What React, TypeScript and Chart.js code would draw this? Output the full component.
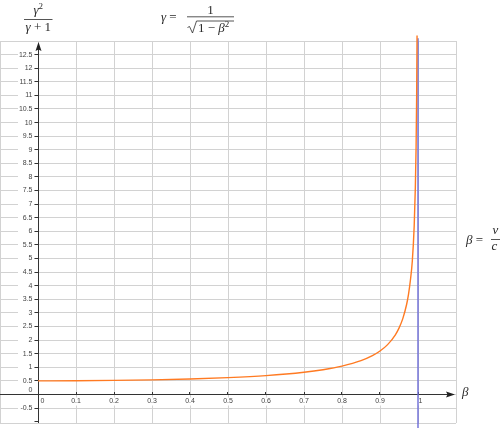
import React, { useEffect, useRef } from "react";
import { Chart, registerables } from "chart.js";

Chart.register(...registerables);

// curve γ²/(γ+1)
const betaValues = [0, 0.1, 0.2, 0.3, 0.4, 0.5, 0.6, 0.7, 0.75, 0.8, 0.85, 0.88, 0.9, 0.92, 0.94, 0.95, 0.96, 0.97, 0.975, 0.98, 0.985, 0.99, 0.993, 0.995, 0.9965, 0.9975];
const curveValues = [0.5, 0.504, 0.516, 0.536, 0.569, 0.619, 0.694, 0.817, 0.91, 1.042, 1.243, 1.427, 1.597, 1.833, 2.186, 2.441, 2.79, 3.309, 3.682, 4.2, 4.9, 6.2, 7.61, 9.11, 11.03, 13.2];
// vertical asymptote β = 1
const asymptoteBeta = [1, 1];
const asymptoteY = [-1.3, 13.1];

const xTickLabels = ["0", "0.1", "0.2", "0.3", "0.4", "0.5", "0.6", "0.7", "0.8", "0.9", "1"];
const yTickLabels = ["-0.5", "0", "0.5", "1", "1.5", "2", "2.5", "3", "3.5", "4", "4.5", "5", "5.5", "6", "6.5", "7", "7.5", "8", "8.5", "9", "9.5", "10", "10.5", "11", "11.5", "12", "12.5"];

const SERIF = '"Liberation Serif", "DejaVu Serif", serif';
const SANS = '"Liberation Sans", Arial, sans-serif';

type Run = { t: string; f: string; dy?: number };

function runsWidth(ctx: CanvasRenderingContext2D, runs: Run[]) {
  let w = 0;
  for (const r of runs) {
    ctx.font = r.f;
    w += ctx.measureText(r.t).width;
  }
  return w;
}

function drawRuns(ctx: CanvasRenderingContext2D, runs: Run[], x: number, baseline: number, center: boolean) {
  let cx = center ? x - runsWidth(ctx, runs) / 2 : x;
  ctx.textAlign = "left";
  ctx.textBaseline = "alphabetic";
  for (const r of runs) {
    ctx.font = r.f;
    ctx.fillText(r.t, cx, baseline + (r.dy || 0));
    cx += ctx.measureText(r.t).width;
  }
}

export default function App() {
  const ref = useRef<HTMLCanvasElement>(null);

  useEffect(() => {
    document.body.style.margin = "0";
    const canvas = ref.current;
    if (!canvas) return;

    const axesPlugin = {
      id: "ggbAxes",
      beforeDatasetsDraw(chart: any) {
        const { ctx, chartArea } = chart;
        const xs = chart.scales.x;
        const ys = chart.scales.y;
        const x0 = Math.floor(xs.getPixelForValue(0)) + 0.5;
        const y0 = Math.floor(ys.getPixelForValue(0)) + 0.5;
        ctx.save();

        // y labels with white background
        ctx.font = `7px ${SANS}`;
        ctx.textBaseline = "middle";
        ctx.textAlign = "right";
        for (const lbl of yTickLabels) {
          const v = parseFloat(lbl);
          const py = ys.getPixelForValue(v) - (v === 0 ? 4 : 0);
          ctx.fillStyle = "#ffffff";
          ctx.fillRect(18, py - 4, 16.5, 8);
          ctx.fillStyle = "#444";
          ctx.fillText(lbl, 32.5, py);
        }

        // x labels with white background
        ctx.textAlign = "center";
        for (const lbl of xTickLabels) {
          const v = parseFloat(lbl);
          const px = xs.getPixelForValue(v) + (v === 0 ? 4.5 : v === 1 ? 2.5 : 0);
          const w = ctx.measureText(lbl).width;
          ctx.fillStyle = "#ffffff";
          ctx.fillRect(px - w / 2 - 1, y0 + 3, w + 2, 8);
          ctx.fillStyle = "#444";
          ctx.fillText(lbl, px, y0 + 7);
        }

        ctx.strokeStyle = "#333";
        ctx.fillStyle = "#222";
        ctx.lineWidth = 1;

        // tick marks on y axis
        ctx.beginPath();
        for (let i = -2; i <= 25; i++) {
          const py = Math.floor(ys.getPixelForValue(i * 0.5)) + 0.5;
          ctx.moveTo(34.5, py);
          ctx.lineTo(x0, py);
        }
        // tick marks on x axis
        for (let i = 1; i <= 10; i++) {
          const px = Math.floor(xs.getPixelForValue(i * 0.1)) + 0.5;
          ctx.moveTo(px, y0 - 2.5);
          ctx.lineTo(px, y0);
        }
        ctx.stroke();

        // x axis
        ctx.beginPath();
        ctx.moveTo(0, y0);
        ctx.lineTo(449, y0);
        ctx.stroke();
        ctx.beginPath();
        ctx.moveTo(455, y0);
        ctx.lineTo(446, y0 - 3);
        ctx.lineTo(447.5, y0);
        ctx.lineTo(446, y0 + 3);
        ctx.closePath();
        ctx.fill();

        // y axis
        ctx.beginPath();
        ctx.moveTo(x0, chartArea.bottom);
        ctx.lineTo(x0, 48);
        ctx.stroke();
        ctx.beginPath();
        ctx.moveTo(x0, 42);
        ctx.lineTo(x0 - 3, 51);
        ctx.lineTo(x0, 49.5);
        ctx.lineTo(x0 + 3, 51);
        ctx.closePath();
        ctx.fill();

        ctx.restore();
      },
      afterDraw(chart: any) {
        const { ctx } = chart;
        ctx.save();
        ctx.fillStyle = "#2a2a2a";
        ctx.strokeStyle = "#2a2a2a";
        const it = `italic 13px ${SERIF}`;
        const rm = `13px ${SERIF}`;
        const sup = `9px ${SERIF}`;

        // γ² / (γ + 1)
        drawRuns(ctx, [{ t: "γ", f: it }, { t: "2", f: sup, dy: -5 }], 38.3, 14, true);
        ctx.lineWidth = 0.8;
        ctx.beginPath();
        ctx.moveTo(24, 19.5);
        ctx.lineTo(52.5, 19.5);
        ctx.stroke();
        drawRuns(ctx, [{ t: "γ", f: it }, { t: " + 1", f: rm }], 38.3, 30.5, true);

        // γ = 1 / sqrt(1 − β²)
        drawRuns(ctx, [{ t: "γ", f: it }, { t: " = ", f: rm }], 161, 20.5, false);
        drawRuns(ctx, [{ t: "1", f: rm }], 210.5, 13.5, true);
        ctx.beginPath();
        ctx.moveTo(187, 16.8);
        ctx.lineTo(234, 16.8);
        ctx.stroke();
        ctx.beginPath();
        ctx.moveTo(187.5, 27.5);
        ctx.lineTo(189.5, 26.5);
        ctx.lineTo(192.5, 33);
        ctx.lineTo(196.5, 21);
        ctx.lineTo(234, 21);
        ctx.stroke();
        drawRuns(ctx, [{ t: "1 − ", f: rm }, { t: "β", f: it }, { t: "2", f: sup, dy: -5 }], 198, 32, false);

        // β = v / c
        drawRuns(ctx, [{ t: "β", f: it }, { t: " = ", f: rm }], 466, 244, false);
        ctx.beginPath();
        ctx.moveTo(491, 239.5);
        ctx.lineTo(501, 239.5);
        ctx.stroke();
        drawRuns(ctx, [{ t: "v", f: it }], 495.5, 234, true);
        drawRuns(ctx, [{ t: "c", f: it }], 494.5, 250, true);

        // axis label β
        drawRuns(ctx, [{ t: "β", f: it }], 462, 396, false);

        ctx.restore();
      },
    };

    const chart = new Chart(canvas, {
      type: "line",
      data: {
        datasets: [
          {
            data: betaValues.map((b, i) => ({ x: b, y: curveValues[i] })),
            borderColor: "#ff7a22",
            borderWidth: 1.4,
            pointRadius: 0,
            cubicInterpolationMode: "monotone",
            clip: false as any,
          },
          {
            data: asymptoteBeta.map((b, i) => ({ x: b, y: asymptoteY[i] })),
            borderColor: "#6c6cd8",
            borderWidth: 1.4,
            pointRadius: 0,
            clip: false as any,
          },
        ],
      },
      options: {
        animation: false,
        responsive: false,
        devicePixelRatio: 1,
        layout: { padding: { left: 0, right: 44, top: 41, bottom: 5 } },
        plugins: { legend: { display: false }, tooltip: { enabled: false } },
        scales: {
          x: {
            type: "linear",
            min: -0.1,
            max: 1.1,
            ticks: { display: false, stepSize: 0.1 },
            grid: { color: "#d2d2d2", lineWidth: 1, drawTicks: false },
            border: { display: false },
          },
          y: {
            type: "linear",
            min: -1.05,
            max: 13,
            ticks: { display: false, stepSize: 0.5 },
            grid: { color: "#d2d2d2", lineWidth: 1, drawTicks: false },
            border: { display: false },
          },
        },
      },
      plugins: [axesPlugin],
    });

    return () => chart.destroy();
  }, []);

  return <canvas ref={ref} width={500} height={428} style={{ display: "block" }} />;
}
